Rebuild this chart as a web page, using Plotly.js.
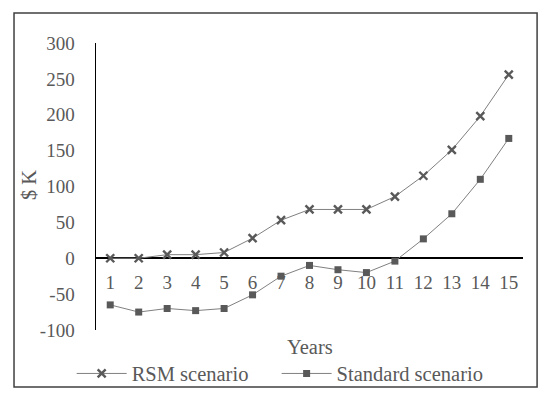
<!DOCTYPE html>
<html>
<head>
<meta charset="utf-8">
<script src="https://cdn.plot.ly/plotly-3.0.1.min.js"></script>
<style>html,body{margin:0;padding:0;background:#fff;}#chart{width:550px;height:396px;}</style>
</head>
<body>
<div id="chart"></div>
<script>
const years = ['1','2','3','4','5','6','7','8','9','10','11','12','13','14','15'];
const rsmScenario = [0, 0, 5, 5, 8, 28, 53, 68, 68, 68, 86, 115, 151, 198, 256];
const standardScenario = [-65, -75, -70, -73, -70, -51, -25, -10, -16, -20, -4, 27, 62, 110, 167];
const yTicks = [-100, -50, 0, 50, 100, 150, 200, 250, 300];
const yTickText = ['-100', '-50', '0', '50', '100', '150', '200', '250', '300'];

const FONT = 'Liberation Serif, Times New Roman, serif';
const GRAY = '#595959';

const traces = [
  {
    x: years, y: rsmScenario, name: 'RSM scenario', type: 'scatter', mode: 'lines+markers',
    legend: 'legend',
    line: {color: '#808080', width: 1},
    marker: {symbol: 'x-thin', size: 8, color: GRAY, line: {color: GRAY, width: 2.4}}
  },
  {
    x: years, y: standardScenario, name: 'Standard scenario', type: 'scatter', mode: 'lines+markers',
    legend: 'legend2',
    line: {color: '#808080', width: 1},
    marker: {symbol: 'square', size: 7, color: GRAY}
  }
];

const legendBase = {
  orientation: 'h', xanchor: 'left', y: -0.152, yanchor: 'middle',
  font: {family: FONT, size: 20.5, color: GRAY}, itemwidth: 50,
  bgcolor: 'rgba(0,0,0,0)'
};

const layout = {
  width: 550, height: 396,
  margin: {l: 96, r: 27, t: 43, b: 66, autoexpand: false},
  paper_bgcolor: '#fff', plot_bgcolor: '#fff',
  font: {family: FONT, size: 19, color: GRAY},
  showlegend: true,
  legend: Object.assign({}, legendBase, {x: -0.057}),
  legend2: Object.assign({}, legendBase, {x: 0.423}),
  xaxis: {
    type: 'category', range: [-0.5, 14.5],
    anchor: 'free', position: 0.252,
    showline: false, showgrid: false, zeroline: false,
    ticks: 'outside', ticklen: 8, tickcolor: 'rgba(0,0,0,0)',
    tickfont: {family: FONT, size: 19, color: GRAY},
    fixedrange: true
  },
  yaxis: {
    range: [-100, 300], tickvals: yTicks, ticktext: yTickText,
    showline: true, linecolor: '#000', linewidth: 1.5,
    showgrid: false,
    zeroline: true, zerolinecolor: '#000', zerolinewidth: 2,
    ticks: 'outside', ticklen: 16, tickcolor: 'rgba(0,0,0,0)',
    tickfont: {family: FONT, size: 19, color: GRAY},
    fixedrange: true
  },
  annotations: [
    {text: 'Years', xref: 'paper', yref: 'paper', x: 0.5, y: -0.059, xanchor: 'center', yanchor: 'middle',
     showarrow: false, font: {family: FONT, size: 20.5, color: GRAY}},
    {text: '$ K', xref: 'paper', yref: 'paper', x: -0.157, y: 0.505, xanchor: 'center', yanchor: 'middle',
     textangle: -90, showarrow: false, font: {family: FONT, size: 20.5, color: GRAY}}
  ],
  shapes: [
    {type: 'rect', xref: 'paper', yref: 'paper', x0: -0.192, x1: 1.033, y0: -0.1986, y1: 1.1045,
     line: {color: '#404040', width: 1.5}, fillcolor: 'rgba(0,0,0,0)', layer: 'below'}
  ]
};

Plotly.newPlot('chart', traces, layout, {displayModeBar: false, staticPlot: true});
</script>
</body>
</html>
